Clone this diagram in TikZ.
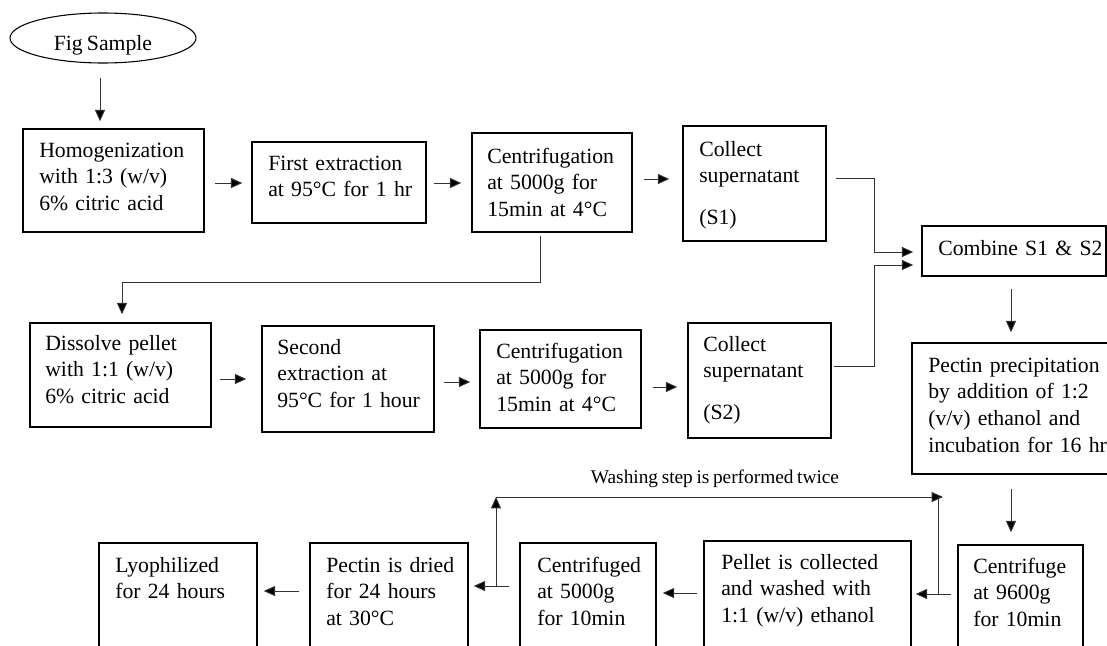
\documentclass[tikz,border=0pt]{standalone}
\usepackage{fontspec}
\setmainfont{Liberation Serif}[WordSpace=0.75]
\usetikzlibrary{arrows.meta,shapes.geometric,fit}
\begin{document}
\begin{tikzpicture}[x=0.75pt,y=-0.75pt,
  box/.style={draw, line width=1.1pt, inner sep=0pt},
  txt/.style={anchor=base west, inner sep=0pt, align=left, text width=200pt,
    font=\fontsize{16.3pt}{20pt}\selectfont},
  lab/.style={anchor=base, inner sep=0pt, font=\fontsize{14.5pt}{17pt}\selectfont},
  ln/.style={draw=black!80, line width=0.7pt},
  arr/.style={ln, -{Triangle[length=8.5pt,width=7.5pt,fill=black]}}]
\useasboundingbox (0,0) rectangle (1107,646);
\clip (0,0) rectangle (1107,646);

% start
\node[draw, ellipse, line width=0.8pt, minimum width=139.5pt, minimum height=37.5pt, inner sep=0pt] (fig) at (103,38) {};
\node[anchor=base, inner sep=0pt, font=\fontsize{16.3pt}{20pt}\selectfont] (figt) at (103,50) {Fig Sample};

% row 1
\node[box, fit={(23,129) (204,232)}] (h) {};
\node[txt] (ht) at (39,157) {Homogenization\\with 1:3 (w/v)\\6\% citric acid};
\node[box, fit={(252,142) (426,223)}] (fe) {};
\node[txt] (fet) at (268,170) {First extraction\\at 95°C for 1 hr};
\node[box, fit={(472,133) (632,232)}] (c1) {};
\node[txt] (c1t) at (487,163) {Centrifugation\\at 5000g for\\15min at 4°C};
\node[box, fit={(683,126) (826,241)}] (s1) {};
\node[txt] (s1t) at (699,156) {Collect\\supernatant\\[11pt](S1)};
\node[box, fit={(922,226) (1106,276)}] (comb) {};
\node[txt] (combt) at (938,255) {Combine S1 \& S2};

% row 2
\node[box, fit={(30,323) (211,427)}] (d) {};
\node[txt] (dt) at (45,350) {Dissolve pellet\\with 1:1 (w/v)\\6\% citric acid};
\node[box, fit={(262,326) (434,432)}] (se) {};
\node[txt] (set) at (277,354) {Second\\extraction at\\95°C for 1 hour};
\node[box, fit={(480,330) (641,428)}] (c2) {};
\node[txt] (c2t) at (496,358) {Centrifugation\\at 5000g for\\15min at 4°C};
\node[box, fit={(688,323) (831,438)}] (s2) {};
\node[txt] (s2t) at (703,351) {Collect\\supernatant\\[11pt](S2)};
\node[box, fit={(912,343) (1112,474)}] (pp) {};
\node[txt] (ppt) at (928,372) {Pectin precipitation\\by addition of 1:2\\(v/v) ethanol and\\incubation for 16 hr};

% row 3
\node[box, fit={(958,545) (1083,660)}] (cf) {};
\node[txt] (cft) at (973,573) {Centrifuge\\at 9600g\\for 10min};
\node[box, fit={(704,541) (911,660)}] (pel) {};
\node[txt] (pelt) at (721,569) {Pellet is collected\\and washed with\\1:1 (w/v) ethanol};
\node[box, fit={(520,543) (656,660)}] (cd) {};
\node[txt] (cdt) at (537,572) {Centrifuged\\at 5000g\\for 10min};
\node[box, fit={(310,543) (468,660)}] (dr) {};
\node[txt] (drt) at (326,572) {Pectin is dried\\for 24 hours\\at 30°C};
\node[box, fit={(99,543) (257,660)}] (ly) {};
\node[txt] (lyt) at (115,572) {Lyophilized\\for 24 hours};

\node[lab] (wash) at (715,483) {Washing step is performed twice};

% connectors
\draw[arr, shorten <=10.5pt, shorten >=5.25pt] (fig.south -| 100,0) -- (h.north -| 100,0);
\draw[arr, shorten <=8pt, shorten >=6.75pt] (h.east |- 0,183) -- (fe.west |- 0,183);
\draw[arr, shorten <=5.25pt, shorten >=7.5pt] (fe.east |- 0,183) -- (c1.west |- 0,183);
\draw[arr, shorten <=8.25pt, shorten >=9.75pt] (c1.east |- 0,179) -- (s1.west |- 0,179);
\draw[arr, shorten <=6.75pt, shorten >=6pt] (s1.east |- 0,178) -| (874,252) -- (comb.west |- 0,252);
\draw[arr, shorten <=1.5pt, shorten >=6pt] (s2.east |- 0,366) -| (874,265) -- (comb.west |- 0,265);
\draw[arr, shorten <=2.25pt, shorten >=6pt] (c1.south -| 540,0) |- (122,282) -- (d.north -| 122,0);
\draw[arr, shorten <=6pt, shorten >=11.25pt] (d.east |- 0,379) -- (se.west |- 0,379);
\draw[arr, shorten <=6.75pt, shorten >=6.75pt] (se.east |- 0,382) -- (c2.west |- 0,382);
\draw[arr, shorten <=8.25pt, shorten >=7.5pt] (c2.east |- 0,387) -- (s2.west |- 0,387);
\draw[arr, shorten <=9pt, shorten >=7.5pt] (comb.south -| 1011,0) -- (pp.north -| 1011,0);
\draw[arr, shorten <=10.5pt, shorten >=9pt] (pp.south -| 1011,0) -- (cf.north -| 1011,0);
\draw[arr, shorten <=4.5pt, shorten >=3pt] (cf.west |- 0,594) -- (pel.east |- 0,594);
\draw[arr, shorten <=4.5pt, shorten >=4.5pt] (pel.west |- 0,593) -- (cd.east |- 0,593);
\draw[arr, shorten <=7.5pt, shorten >=3.75pt] (cd.west |- 0,586) -- (dr.east |- 0,586);
\draw[arr, shorten <=7.5pt, shorten >=4.5pt] (dr.west |- 0,591) -- (ly.east |- 0,591);

% washing loop
\coordinate (wl) at (496,586);
\coordinate (wr) at (938,594);
\coordinate (wtl) at (496,497);
\coordinate (wtr) at (943,497);
\draw[arr] (wl) -- (wtl);
\draw[arr] (wtl) -- (wtr);
\draw[ln] (wr) -- (wr |- wtl);
\end{tikzpicture}
\end{document}
